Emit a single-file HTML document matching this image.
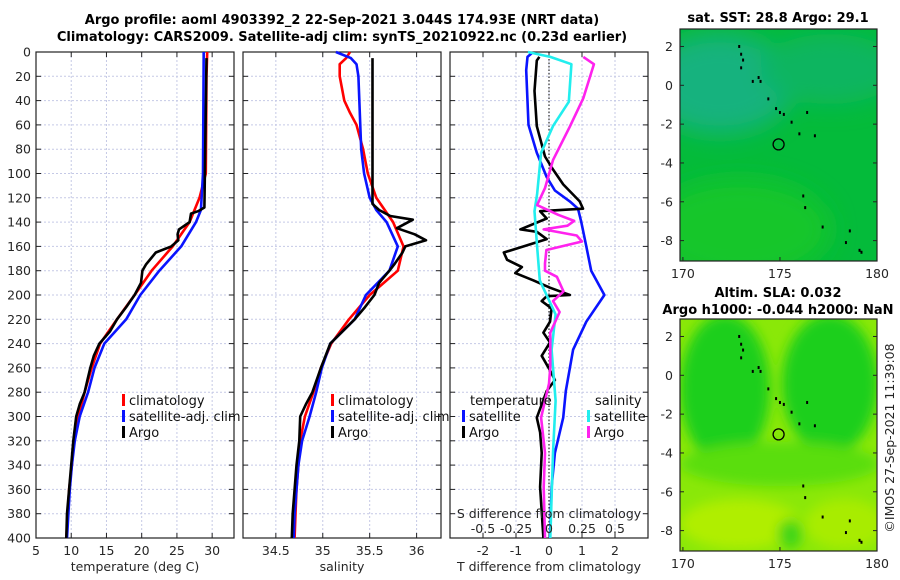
<!DOCTYPE html>
<html><head><meta charset="utf-8">
<style>
body{margin:0;background:#fff;}
svg{display:block;font-family:"DejaVu Sans","Liberation Sans",sans-serif;}
.tk{font-size:12.5px;fill:#262626;}
.tt{font-size:13px;font-weight:bold;fill:#000;}
.lg{font-size:13px;fill:#111;}
</style></head>
<body>
<svg id="chart" width="900" height="580" viewBox="0 0 900 580" xmlns="http://www.w3.org/2000/svg">
<text class="tt" x="342" y="24" text-anchor="middle">Argo profile: aoml 4903392_2 22-Sep-2021 3.044S 174.93E (NRT data)</text>
<text class="tt" x="342" y="41" text-anchor="middle">Climatology: CARS2009. Satellite-adj clim: synTS_20210922.nc (0.23d earlier)</text>
<g id="g1"></g><g id="g2"></g><g id="g3"></g><g id="maps"></g>
</svg>
<script>
// ---------- data ----------
const depthTicks=[0,20,40,60,80,100,120,140,160,180,200,220,240,260,280,300,320,340,360,380,400];
const tempTicks=[5,10,15,20,25,30];
const salTicks=[34.5,35,35.5,36];
const tdiffTicks=[-2,-1,0,1,2];
const sdiffTickLabels=["-0.5","-0.25","0","0.25","0.5"];
const sdiffTicks=[-0.5,-0.25,0,0.25,0.5];

const tClimDepth=[0,20,100,120,130,140,160,180,200,220,240,260,280,300,320,340,360,380,400];
const tClimVal=[29.3,29.2,29.1,28.2,27.5,26.8,24.4,21.4,19.0,16.5,14.1,12.9,11.9,11.0,10.4,10.1,9.7,9.5,9.3];
const tSatDepth=[0,100,130,140,160,180,200,220,240,260,280,300,320,340,360,380,400];
const tSatVal=[28.8,28.7,28.4,27.7,25.6,22.5,19.8,17.8,14.7,13.3,12.4,11.2,10.5,10.1,9.8,9.6,9.4];
const tArgoDepth=[5,128,131,133,140,146,150,155,160,165,170,175,180,190,200,210,220,230,240,250,260,270,280,290,300,320,340,360,380,400];
const tArgoVal=[29.2,28.9,28.0,27.0,26.8,25.3,25.1,25.2,24.2,22.0,21.3,20.6,20.1,19.9,19.0,17.8,16.5,15.5,14.0,13.2,12.7,12.3,11.9,11.2,10.7,10.3,10.0,9.7,9.4,9.3];

const sClimDepth=[0,5,10,20,40,50,60,80,100,120,140,160,180,200,220,240,260,280,300,320,340,360,380,400];
const sClimVal=[35.29,35.25,35.18,35.18,35.23,35.29,35.36,35.43,35.48,35.57,35.75,35.86,35.8,35.5,35.28,35.09,34.98,34.9,34.81,34.76,34.74,34.72,34.71,34.7];
const sSatDepth=[0,5,10,20,80,100,120,130,140,160,180,200,220,240,260,280,300,320,340,360,380,400];
const sSatVal=[35.14,35.3,35.36,35.38,35.41,35.44,35.5,35.57,35.68,35.8,35.71,35.46,35.34,35.08,34.99,34.93,34.86,34.78,34.74,34.72,34.7,34.69];
const sArgoDepth=[5,125,130,135,138,145,150,155,160,165,175,180,190,200,210,220,240,260,280,290,300,320,340,360,380,400];
const sArgoVal=[35.53,35.53,35.6,35.72,35.96,35.79,35.98,36.1,35.88,35.85,35.76,35.71,35.6,35.55,35.45,35.34,35.08,34.98,34.89,34.82,34.76,34.75,34.72,34.7,34.68,34.67];

const dtSatDepth=[1,4,15,60,83,103,114,123,129,140,160,180,200,222,245,279,301,330,358,400];
const dtSatVal=[-0.52,-0.65,-0.69,-0.62,-0.37,-0.07,0.18,0.63,0.88,0.98,1.13,1.28,1.68,1.13,0.73,0.51,0.43,0.18,0.08,0.03];
const dtArgoDepth=[4,7,32,61,86,97,109,123,129,131,137,146,148,154,160,165,171,177,182,188,194,200,201,205,211,222,231,239,250,262,270,279,301,313,330,358,400];
const dtArgoVal=[-0.29,-0.37,-0.44,-0.37,-0.12,0.13,0.43,0.93,1.03,-0.27,-0.07,-0.87,-0.37,-0.07,-0.77,-1.37,-1.27,-0.82,-1.02,-0.47,0.03,0.63,-0.07,-0.22,0.08,0.03,-0.17,0.03,-0.22,0.03,0.18,-0.07,-0.37,-0.27,-0.22,-0.27,-0.17];
const dsSatDepth=[0,4,10,41,61,83,117,131,160,188,216,245,287,330,400];
const dsSatVal=[-0.16,0.01,0.17,0.15,0.03,-0.06,-0.09,-0.11,-0.09,-0.07,0.05,0.02,0.05,0.03,0.01];
const dsArgoDepth=[4,10,38,61,89,112,126,134,139,143,146,151,156,163,174,180,185,197,205,214,231,259,273,301,330,358,400];
const dsArgoVal=[0.26,0.34,0.26,0.16,0.03,-0.03,-0.09,0.07,0.19,0.14,-0.04,0.21,0.25,-0.02,-0.03,-0.03,0.06,0.11,0.03,0.08,0.01,0.01,0.0,-0.06,-0.03,-0.04,-0.03];

// ---------- helpers ----------
const NS="http://www.w3.org/2000/svg";
function mk(tag,attrs,parent){const e=document.createElementNS(NS,tag);for(const k in attrs)e.setAttribute(k,attrs[k]);parent.appendChild(e);return e;}
const TOP=52,BOT=538;
const yD=d=>TOP+d/400*(BOT-TOP);

function panel(g,x0,x1,xmin,xmax,xticks,xlabels,showY,name){
  const xs=v=>x0+(v-xmin)/(xmax-xmin)*(x1-x0);
  const grid=mk('g',{},g);
  
  
  xticks.forEach(v=>{mk('line',{x1:xs(v),x2:xs(v),y1:TOP,y2:BOT,stroke:'#c5c9e6','stroke-width':1,'stroke-dasharray':'2,2'},grid);});
  depthTicks.forEach(d=>{mk('line',{x1:x0,x2:x1,y1:yD(d),y2:yD(d),stroke:'#c5c9e6','stroke-width':1,'stroke-dasharray':'2,2'},grid);
    mk('line',{x1:x0,x2:x0+5,y1:yD(d),y2:yD(d),stroke:'#222'},grid);mk('line',{x1:x1-5,x2:x1,y1:yD(d),y2:yD(d),stroke:'#222'},grid);
    if(showY){const t=mk('text',{x:x0-5,y:yD(d)+4.5,'text-anchor':'end',class:'tk'},g);t.textContent=d;
      
      }
  });
  xticks.forEach((v,i)=>{mk('line',{x1:xs(v),x2:xs(v),y1:BOT,y2:BOT-5,stroke:'#222'},grid);mk('line',{x1:xs(v),x2:xs(v),y1:TOP,y2:TOP+5,stroke:'#222'},grid);
    const t=mk('text',{x:xs(v),y:555,'text-anchor':'middle',class:'tk'},g);t.textContent=xlabels[i];
    
    });
  const fr=mk('rect',{x:x0,y:TOP,width:x1-x0,height:BOT-TOP,fill:'none',stroke:'#222','stroke-width':1.2},g);
  
  
  return xs;
}
function line(g,xs,depths,vals,color,name){
  const pts=depths.map((d,i)=>xs(vals[i]).toFixed(1)+','+yD(d).toFixed(1)).join(' ');
  const p=mk('polyline',{points:pts,fill:'none',stroke:color,'stroke-width':2.6,'stroke-linejoin':'round'},g);
  
  
}
function txt(g,x,y,s,cls,name,anchor){const t=mk('text',{x:x,y:y,class:cls,'text-anchor':anchor||'start'},g);t.textContent=s;
  
  return t;}
function legItem(g,x,y,color,label,name){
  const r=mk('rect',{x:x,y:y-11,width:3,height:12,fill:color},g);
  
  
  txt(g,x+7,y,label,'lg',name);
}

// panel 1
const g1=document.getElementById('g1');
const xT=panel(g1,36,234,5,33.1,tempTicks,tempTicks.map(String),true,'temperature-panel');
line(g1,xT,tClimDepth,tClimVal,'#ff0000','temp-climatology-line');
line(g1,xT,tSatDepth,tSatVal,'#0a14ff','temp-satellite-line');
line(g1,xT,tArgoDepth,tArgoVal,'#000','temp-argo-line');
txt(g1,135,571,'temperature (deg C)','tk','temperature-x-axis-title','middle');
legItem(g1,122,405,'#ff0000','climatology','legend-climatology');
legItem(g1,122,421,'#0a14ff','satellite-adj. clim','legend-satellite-adj');
legItem(g1,122,437,'#000','Argo','legend-argo');

// panel 2
const g2=document.getElementById('g2');
const xS=panel(g2,243,441,34.15,36.26,salTicks,salTicks.map(String),false,'salinity-panel');
line(g2,xS,sClimDepth,sClimVal,'#ff0000','sal-climatology-line');
line(g2,xS,sSatDepth,sSatVal,'#0a14ff','sal-satellite-line');
line(g2,xS,sArgoDepth,sArgoVal,'#000','sal-argo-line');
txt(g2,342,571,'salinity','tk','salinity-x-axis-title','middle');
legItem(g2,331,405,'#ff0000','climatology','legend-climatology-2');
legItem(g2,331,421,'#0a14ff','satellite-adj. clim','legend-satellite-adj-2');
legItem(g2,331,437,'#000','Argo','legend-argo-2');

// panel 3
const g3=document.getElementById('g3');
const xD=panel(g3,450,648,-3,3,tdiffTicks,tdiffTicks.map(String),false,'difference-panel');
const xSD=v=>549+v*132;
const zl=mk('line',{x1:549,x2:549,y1:TOP,y2:BOT,stroke:'#000','stroke-width':1,'stroke-dasharray':'1.5,2'},g3);


line(g3,xD,dtSatDepth,dtSatVal,'#0a14ff','tdiff-satellite-line');
line(g3,xD,dtArgoDepth,dtArgoVal,'#000','tdiff-argo-line');
line(g3,xSD,dsSatDepth,dsSatVal,'#22eeee','sdiff-satellite-line');
line(g3,xSD,dsArgoDepth,dsArgoVal,'#ff22ee','sdiff-argo-line');
txt(g3,549,571,'T difference from climatology','tk','tdiff-x-axis-title','middle');
txt(g3,549,518,'S difference from climatology','tk','sdiff-axis-title','middle');
sdiffTicks.forEach((v,i)=>txt(g3,xSD(v),533,sdiffTickLabels[i],'tk','sdiff-tick-label','middle'));
txt(g3,470,405,'temperature','lg','legend-temperature-header');
legItem(g3,462,421,'#0a14ff','satellite','legend-t-satellite');
legItem(g3,462,437,'#000','Argo','legend-t-argo');
txt(g3,595,405,'salinity','lg','legend-salinity-header');
legItem(g3,587,421,'#22eeee','satellite','legend-s-satellite');
legItem(g3,587,437,'#ff22ee','Argo','legend-s-argo');

// ---------- maps ----------
const lonTicks=[170,175,180];
const latTicks=[2,0,-2,-4,-6,-8];
const floatLon=174.93, floatLat=-3.044;
const coastLon=[172.9,173.0,173.1,173.0,173.6,173.9,174.0,174.4,174.8,175.0,175.2,175.6,176.0,176.4,176.8,176.2,176.3,177.2,178.6,178.4,179.1,179.2];
const coastLat=[2.0,1.6,1.3,0.9,0.2,0.4,0.2,-0.7,-1.2,-1.4,-1.5,-1.9,-2.5,-1.4,-2.6,-5.7,-6.3,-7.3,-7.5,-8.1,-8.5,-8.6];
const maps=document.getElementById('maps');
function mapPanel(y0,y1,latA,latB,name,bgFn){
  const x0=680,x1=877;
  const xl=v=>x0+(v-169.85)/(180-169.85)*(x1-x0);
  const yl=v=>y0+(latA-v)/(latA-latB)*(y1-y0);
  const g=mk('g',{},maps);
  
  
  const cid='clip-'+name;
  const cp=mk('clipPath',{id:cid},g);
  mk('rect',{x:x0,y:y0,width:x1-x0,height:y1-y0},cp);
  const bg=mk('g',{'clip-path':'url(#'+cid+')'},g);
  bgFn(bg,x0,y0,x1-x0,y1-y0);
  coastLon.forEach((lo,i)=>{const c=mk('rect',{x:xl(lo)-1,y:yl(coastLat[i])-1.5,width:2,height:3,fill:'#000'},g);
    
    });
  const c=mk('circle',{cx:xl(floatLon),cy:yl(floatLat),r:5.5,fill:'none',stroke:'#000','stroke-width':1.3},g);
  
  
  mk('rect',{x:x0,y:y0,width:x1-x0,height:y1-y0,fill:'none',stroke:'#222','stroke-width':1.2},g);
  lonTicks.forEach(v=>{mk('line',{x1:xl(v),x2:xl(v),y1:y1,y2:y1-4,stroke:'#222'},g);
    txt(g,xl(v),y1+17,String(v),'tk','map-lon-tick-label','middle');});
  latTicks.forEach(v=>{mk('line',{x1:x0,x2:x0+4,y1:yl(v),y2:yl(v),stroke:'#222'},g);mk('line',{x1:x1,x2:x1-4,y1:yl(v),y2:yl(v),stroke:'#222'},g);
    txt(g,x0-7,yl(v)+4.5,String(v),'tk','map-lat-tick-label','end');});
}
function defs(){
  const d=mk('defs',{},maps);
  const f=mk('filter',{id:'bl',x:'-50%',y:'-50%',width:'200%',height:'200%'},d);mk('feGaussianBlur',{stdDeviation:12},f);
  const f2=mk('filter',{id:'bl2',x:'-50%',y:'-50%',width:'200%',height:'200%'},d);mk('feGaussianBlur',{stdDeviation:6},f2);
}
defs();
mapPanel(29,261,2.9,-9.05,'sst-map',(g,x,y,w,h)=>{
  mk('rect',{x:x,y:y,width:w,height:h,fill:'#04bb3a'},g);
  const gg=mk('g',{filter:'url(#bl)'},g);
  mk('ellipse',{cx:x+40,cy:y+55,rx:75,ry:50,fill:'#12b27e'},gg);
  mk('ellipse',{cx:x+150,cy:y+40,rx:70,ry:35,fill:'#08b560'},gg);
  mk('ellipse',{cx:x+60,cy:y+200,rx:90,ry:50,fill:'#12c62a'},gg);
});
mapPanel(319,551,2.9,-9.05,'sla-map',(g,x,y,w,h)=>{
  mk('rect',{x:x,y:y,width:w,height:h,fill:'#8ae808'},g);
  const gg=mk('g',{filter:'url(#bl2)'},g);
  mk('ellipse',{cx:x+45,cy:y+70,rx:45,ry:75,fill:'#1ccf1c'},gg);
  mk('ellipse',{cx:x+150,cy:y+65,rx:48,ry:70,fill:'#1ccf1c'},gg);
  mk('ellipse',{cx:x+100,cy:y+145,rx:100,ry:22,fill:'#5ade10'},gg);
  mk('ellipse',{cx:x+60,cy:y+205,rx:60,ry:25,fill:'#b0ee05'},gg);
  mk('ellipse',{cx:x+165,cy:y+205,rx:40,ry:25,fill:'#a8ec06'},gg);
  mk('ellipse',{cx:x+110,cy:y+215,rx:12,ry:15,fill:'#40d515'},gg);
});
txt(maps,778,22,'sat. SST: 28.8 Argo: 29.1','tt','sst-map-title','middle');
txt(maps,778,297,'Altim. SLA: 0.032','tt','sla-map-title-1','middle');
txt(maps,778,314,'Argo h1000: -0.044 h2000: NaN','tt','sla-map-title-2','middle');
const im=txt(maps,0,0,'©IMOS 27-Sep-2021 11:39:08','tk','imos-credit','middle');
im.setAttribute('transform','translate(894,438) rotate(-90)');
</script>
</body></html>
